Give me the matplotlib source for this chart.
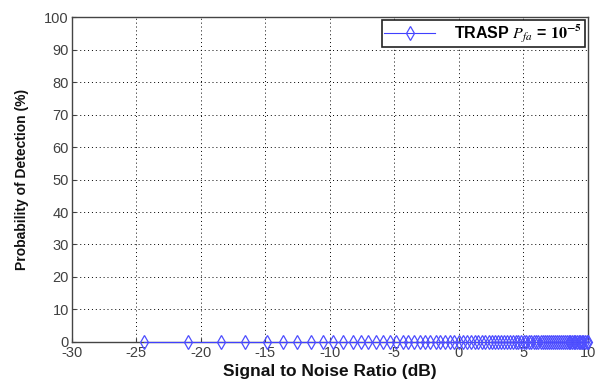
import matplotlib
matplotlib.use("Agg")
import matplotlib.pyplot as plt

snr_db = [-24.4, -20.98, -18.45, -16.6, -14.83, -13.62, -12.53, -11.47, -10.5,
          -9.74, -8.96, -8.24, -7.62, -7.03, -6.43, -5.87, -5.3,
          -4.83, -4.35, -3.9, -3.45, -3.02, -2.6, -2.2, -1.8, -1.42, -1.05,
          -0.7, -0.35, 0.0, 0.32, 0.63, 0.93, 1.22, 1.5, 1.78, 2.05, 2.31,
          2.57, 2.82, 3.06, 3.3, 3.53, 3.76, 3.98, 4.2, 4.41, 4.62, 4.83,
          5.03, 5.23, 5.42, 5.61, 5.8, 5.98, 6.16, 6.34, 6.51, 6.68, 6.85,
          7.01, 7.17, 7.33, 7.49, 7.64, 7.79, 7.94, 8.09, 8.23, 8.37, 8.51,
          8.65, 8.78, 8.91, 9.04, 9.17, 9.3, 9.42, 9.54, 9.66, 9.78, 9.9, 10.0]
pd_percent = [0.0] * len(snr_db)
xticks = [-30, -25, -20, -15, -10, -5, 0, 5, 10]
yticks = [0, 10, 20, 30, 40, 50, 60, 70, 80, 90, 100]

plt.rcParams['font.family'] = ['Liberation Sans', 'DejaVu Sans']
plt.rcParams['mathtext.fontset'] = 'stix'
plt.rcParams['axes.unicode_minus'] = False

fig = plt.figure(figsize=(5.98, 3.82), dpi=100)
ax = fig.add_axes([0.12, 0.105, 0.863, 0.850])

ax.plot(snr_db, pd_percent, color=(0.25, 0.25, 1.0), lw=0.8, marker='d', markersize=7,
        markerfacecolor='none', markeredgecolor=(0.3, 0.3, 1.0), markeredgewidth=0.9,
        clip_on=False, zorder=5, label=r'TRASP $P_{fa}$ = $\mathbf{10^{-5}}$')

ax.set_xlim(-30, 10)
ax.set_ylim(0, 100)
ax.set_xticks(xticks)
ax.set_yticks(yticks)
ax.grid(True, linestyle=(0, (1, 3)), color='black', linewidth=0.7)
ax.tick_params(direction='in', length=3, labelsize=10.5, colors='#404040', pad=2)
ax.tick_params(axis='x', pad=3)
for s in ax.spines.values():
    s.set_color('#444444')
    s.set_linewidth(1.0)

ax.set_xlabel('Signal to Noise Ratio (dB)', fontsize=12.5, fontweight='bold',
              labelpad=3, color='#111111')
ax.set_ylabel('Probability of Detection (%)', fontsize=10, fontweight='bold',
              labelpad=11, color='#111111')

leg = ax.legend(loc='upper right', fancybox=False, edgecolor='#222222', framealpha=1,
                prop={'weight': 'bold', 'size': 11.5}, handlelength=3.2,
                borderaxespad=0.2, borderpad=0.15, handletextpad=1.2)
leg.get_frame().set_linewidth(1.2)

fig.savefig('out.png', dpi=100)
